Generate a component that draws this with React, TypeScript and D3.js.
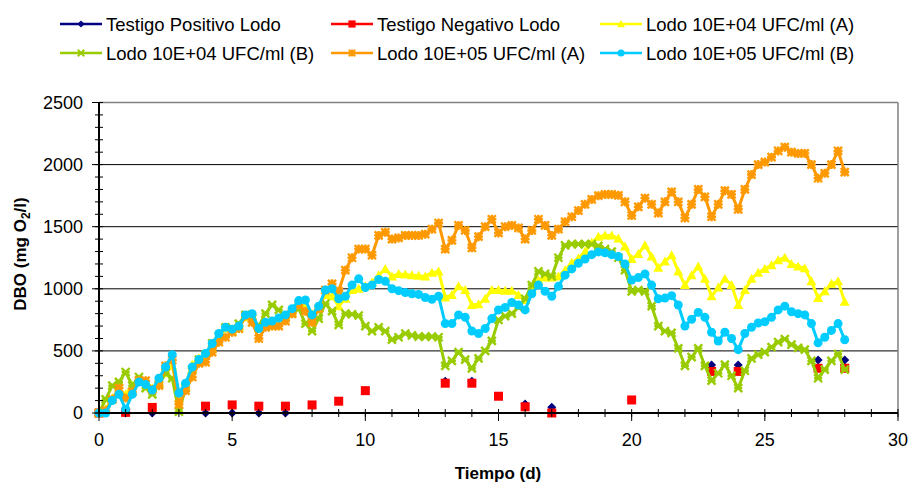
import React from "react";
import * as d3 from "d3";

const TIME = [
  0, 0.25, 0.5, 0.75, 1, 1.25, 1.5, 1.75, 2, 2.25, 2.5, 2.75, 3, 3.25, 3.5, 3.75,
  4, 4.25, 4.5, 4.75, 5, 5.25, 5.5, 5.75, 6, 6.25, 6.5, 6.75, 7, 7.25, 7.5, 7.75,
  8, 8.25, 8.5, 8.75, 9, 9.25, 9.5, 9.75, 10, 10.25, 10.5, 10.75, 11, 11.25, 11.5, 11.75,
  12, 12.25, 12.5, 12.75, 13, 13.25, 13.5, 13.75, 14, 14.25, 14.5, 14.75, 15, 15.25, 15.5, 15.75,
  16, 16.25, 16.5, 16.75, 17, 17.25, 17.5, 17.75, 18, 18.25, 18.5, 18.75, 19, 19.25, 19.5, 19.75,
  20, 20.25, 20.5, 20.75, 21, 21.25, 21.5, 21.75, 22, 22.25, 22.5, 22.75, 23, 23.25, 23.5, 23.75,
  24, 24.25, 24.5, 24.75, 25, 25.25, 25.5, 25.75, 26, 26.25, 26.5, 26.75, 27, 27.25, 27.5, 27.75,
  28,
];

const LODO_04_A = [
  0, 30, 120, 180, 150, 220, 270, 250, 200, 250, 320, 380, 120, 220, 390, 440,
  460, 520, 620, 680, 660, 690, 770, 780, 680, 720, 740, 760, 780, 820, 880, 880,
  800, 850, 950, 940, 860, 920, 990, 1000, 1020, 1050, 1110, 1160, 1100, 1120, 1115, 1110,
  1105, 1100, 1130, 1140, 930, 950, 1020, 990, 870, 875, 920, 990, 990, 985, 985, 950,
  910, 1000, 1069, 1090, 1090, 1100, 1150, 1210, 1245, 1300, 1370, 1420, 1430, 1430, 1404, 1340,
  1240, 1280, 1350, 1260, 1170, 1220, 1270, 1140, 1030, 1110, 1180, 1080, 940, 1010, 1080, 1030,
  870, 990, 1080, 1130, 1160, 1190, 1230, 1250, 1200, 1180, 1165, 1060, 925, 980, 1040, 1060,
  895,
];

const LODO_04_B = [
  0, 110, 220, 250, 330, 220, 290, 200, 150, 230, 320, 280, 10, 200, 350, 430,
  470, 560, 620, 690, 680, 720, 790, 760, 700, 800, 870, 830, 770, 800, 840, 720,
  660, 760, 880, 820, 710, 800, 795, 785, 700, 660, 690, 660, 590, 610, 640, 625,
  615, 615, 615, 610, 380, 420, 490, 430, 360, 440, 500, 580, 750, 780, 800, 850,
  920, 1030, 1140, 1120, 1100, 1250, 1350, 1360, 1360, 1360, 1360, 1345, 1320, 1300, 1250, 1150,
  980, 990, 980, 860, 700, 660, 645, 520, 380, 450, 520, 380, 260, 320, 390, 300,
  200, 340, 440, 470, 490, 530, 570, 595, 550, 525, 510, 420, 280, 350, 420, 475,
  350,
];

const LODO_05_A = [
  0, 20, 110, 200, 120, 170, 260, 260, 190, 220, 380, 426, 70, 180, 290, 400,
  410, 490, 570, 610, 650, 680, 780, 730, 600, 690, 700, 700, 740, 800, 870, 820,
  730, 840, 990, 1040, 980, 1150, 1250, 1320, 1320, 1270, 1430, 1455, 1400, 1410, 1430, 1430,
  1430, 1440, 1480, 1530, 1320, 1390, 1510, 1470, 1330, 1420, 1500, 1560, 1450, 1500, 1510, 1490,
  1400, 1470, 1560, 1510, 1430, 1480, 1540, 1580, 1630, 1680, 1720, 1750, 1760, 1760, 1753, 1700,
  1590, 1660, 1730, 1680, 1610, 1700, 1780, 1700, 1570, 1680, 1800, 1740, 1580, 1680, 1790, 1760,
  1640, 1800, 1920, 2000, 2020, 2060, 2110, 2140, 2100, 2090, 2090, 2000, 1890, 1930, 2000, 2110,
  1940,
];

const LODO_05_B = [
  0, 0, 100, 150, 30, 150, 250, 230, 185, 280, 370, 470, 160, 240, 370, 430,
  480, 560, 640, 690, 675, 700, 790, 800, 680, 730, 740, 765, 790, 840, 905, 910,
  790, 860, 990, 1000, 920, 940, 1030, 1080, 1010, 1030, 1075, 1060, 1000, 985, 970, 960,
  955, 930, 915, 940, 720, 720, 790, 770, 660, 640, 680, 760, 830, 850, 890, 870,
  830, 960, 1030, 980, 940, 1020, 1110, 1160, 1205, 1240, 1275, 1297, 1290, 1275, 1260, 1200,
  1070, 1090, 1120, 1030, 920, 925, 945, 870, 700, 755, 810, 770, 650, 580, 650, 600,
  510, 640, 690, 725, 735, 770, 830, 860, 815, 800, 790, 720, 565, 610, 665, 720,
  590,
];

const POS_DAYS = [0, 1, 2, 4, 5, 6, 7, 13, 14, 16, 17, 23, 24, 27, 28];
const POS_VALUES = [0, 0, 0, 0, 0, 0, 0, 255, 255, 72, 46, 386, 386, 426, 426];

const NEG_DAYS = [0, 1, 2, 4, 5, 6, 7, 8, 9, 10, 13, 14, 15, 16, 17, 20, 23, 24, 27, 28];
const NEG_VALUES = [0, 5, 45, 55, 65, 55, 55, 65, 95, 180, 240, 240, 135, 50, 0, 105, 335, 335, 360, 360];

const X_TICKS = [0, 5, 10, 15, 20, 25, 30];
const Y_TICKS = [0, 500, 1000, 1500, 2000, 2500];

type MarkerKind = "diamond" | "square" | "triangle" | "x" | "star" | "circle";

const SERIES: { name: string; color: string; marker: MarkerKind; line: boolean; days: number[]; values: number[] }[] = [
  { name: "Testigo Positivo Lodo", color: "#000080", marker: "diamond", line: false, days: POS_DAYS, values: POS_VALUES },
  { name: "Testigo Negativo Lodo", color: "#FF0000", marker: "square", line: false, days: NEG_DAYS, values: NEG_VALUES },
  { name: "Lodo 10E+04 UFC/ml (A)", color: "#FFFF00", marker: "triangle", line: true, days: TIME, values: LODO_04_A },
  { name: "Lodo 10E+04 UFC/ml (B)", color: "#99CC00", marker: "x", line: true, days: TIME, values: LODO_04_B },
  { name: "Lodo 10E+05 UFC/ml (A)", color: "#FF9900", marker: "star", line: true, days: TIME, values: LODO_05_A },
  { name: "Lodo 10E+05 UFC/ml (B)", color: "#00CCFF", marker: "circle", line: true, days: TIME, values: LODO_05_B },
];

const FONT = "'Liberation Sans', Arial, Helvetica, sans-serif";

function Marker({ kind, x, y, color, s = 1 }: { kind: MarkerKind; x: number; y: number; color: string; s?: number }) {
  switch (kind) {
    case "diamond":
      return <path d={`M${x},${y - 4.5 * s}L${x + 4.5 * s},${y}L${x},${y + 4.5 * s}L${x - 4.5 * s},${y}Z`} fill={color} />;
    case "square":
      return <rect x={x - 4.5 * s} y={y - 4.5 * s} width={9 * s} height={9 * s} fill={color} />;
    case "triangle":
      return <path d={`M${x},${y - 5 * s}L${x + 5 * s},${y + 4 * s}L${x - 5 * s},${y + 4 * s}Z`} fill={color} />;
    case "x":
      return (
        <path
          d={`M${x - 4 * s},${y - 4 * s}L${x + 4 * s},${y + 4 * s}M${x - 4 * s},${y + 4 * s}L${x + 4 * s},${y - 4 * s}M${x - 4 * s},${y}L${x + 4 * s},${y}`}
          stroke={color}
          strokeWidth={2.4 * s}
        />
      );
    case "star":
      return (
        <path
          d={`M${x - 4 * s},${y - 4 * s}L${x + 4 * s},${y + 4 * s}M${x - 4 * s},${y + 4 * s}L${x + 4 * s},${y - 4 * s}M${x},${y - 4.5 * s}L${x},${y + 4.5 * s}M${x - 4.5 * s},${y}L${x + 4.5 * s},${y}`}
          stroke={color}
          strokeWidth={2.4 * s}
        />
      );
    case "circle":
      return <circle cx={x} cy={y} r={4.5 * s} fill={color} />;
  }
}

export default function App() {
  const W = 910;
  const H = 483;
  const left = 99;
  const right = 898;
  const top = 102.5;
  const bottom = 413;

  const x = d3.scaleLinear().domain([0, 30]).range([left, right]);
  const y = d3.scaleLinear().domain([0, 2500]).range([bottom, top]);

  const xMinor = d3.range(0, 31, 1);
  const yMinor = d3.range(0, 2501, 100);

  const legendPos = [
    { lx: 60, ly: 24 },
    { lx: 331, ly: 24 },
    { lx: 600, ly: 24 },
    { lx: 60, ly: 53 },
    { lx: 331, ly: 53 },
    { lx: 600, ly: 53 },
  ];

  return (
    <svg
      width={W}
      height={H}
      viewBox={`0 0 ${W} ${H}`}
      style={{ position: "absolute", left: 0, top: 0, background: "#fff" }}
      fontFamily={FONT}
    >
      <rect x={0} y={0} width={W} height={H} fill="#fff" />

      {Y_TICKS.filter((t) => t > 0 && t < 2500).map((t) => (
        <line key={"g" + t} x1={left} x2={right} y1={y(t)} y2={y(t)} stroke="#000" strokeWidth={1} />
      ))}
      <line x1={left} x2={right} y1={y(2500)} y2={y(2500)} stroke="#808080" strokeWidth={1.5} />
      <line x1={right} x2={right} y1={y(2500)} y2={y(0)} stroke="#808080" strokeWidth={1.5} />

      {SERIES.map((s, si) => {
        const pts = s.days.map((d, i) => [x(d), y(s.values[i])] as [number, number]);
        const path = d3.line()(pts) || "";
        return (
          <g key={"s" + si}>
            {s.line && <path d={path} fill="none" stroke={s.color} strokeWidth={3} strokeLinejoin="round" />}
            {pts.map((p, i) => (
              <Marker key={i} kind={s.marker} x={p[0]} y={p[1]} color={s.color} />
            ))}
          </g>
        );
      })}

      <line x1={left} x2={left} y1={top} y2={bottom} stroke="#000" strokeWidth={2} />
      <line x1={left} x2={right} y1={bottom} y2={bottom} stroke="#000" strokeWidth={2} />
      {yMinor.map((t) => (
        <line key={"ym" + t} x1={left - 4} x2={left + 4} y1={y(t)} y2={y(t)} stroke="#000" strokeWidth={1} />
      ))}
      {Y_TICKS.map((t) => (
        <line key={"yM" + t} x1={left - 7} x2={left} y1={y(t)} y2={y(t)} stroke="#000" strokeWidth={1} />
      ))}
      {xMinor.map((t) => (
        <line key={"xm" + t} x1={x(t)} x2={x(t)} y1={bottom - 4} y2={bottom + 4} stroke="#000" strokeWidth={1} />
      ))}
      {X_TICKS.map((t) => (
        <line key={"xM" + t} x1={x(t)} x2={x(t)} y1={bottom} y2={bottom + 8} stroke="#000" strokeWidth={1} />
      ))}

      {Y_TICKS.map((t) => (
        <text key={"yl" + t} x={83} y={y(t)} textAnchor="end" dominantBaseline="central" fontSize={18} fill="#000">
          {t}
        </text>
      ))}
      {X_TICKS.map((t) => (
        <text key={"xl" + t} x={x(t)} y={440} textAnchor="middle" dominantBaseline="central" fontSize={18} fill="#000">
          {t}
        </text>
      ))}

      <text x={498} y={479} textAnchor="middle" fontSize={17} fontWeight="bold" fill="#000">
        Tiempo (d)
      </text>
      <text transform={`translate(26, 254) rotate(-90)`} textAnchor="middle" fontSize={17} fontWeight="bold" fill="#000">
        DBO (mg O<tspan fontSize={12} dy={4}>2</tspan>
        <tspan dy={-4}>/l)</tspan>
      </text>

      {SERIES.map((s, i) => {
        const { lx, ly } = legendPos[i];
        return (
          <g key={"l" + i}>
            <line x1={lx} x2={lx + 42} y1={ly} y2={ly} stroke={s.color} strokeWidth={2.5} />
            <Marker kind={s.marker} x={lx + 21} y={ly} color={s.color} s={0.8} />
            <text x={lx + 46} y={ly} dominantBaseline="central" fontSize={18.5} fill="#000">
              {s.name}
            </text>
          </g>
        );
      })}
    </svg>
  );
}
